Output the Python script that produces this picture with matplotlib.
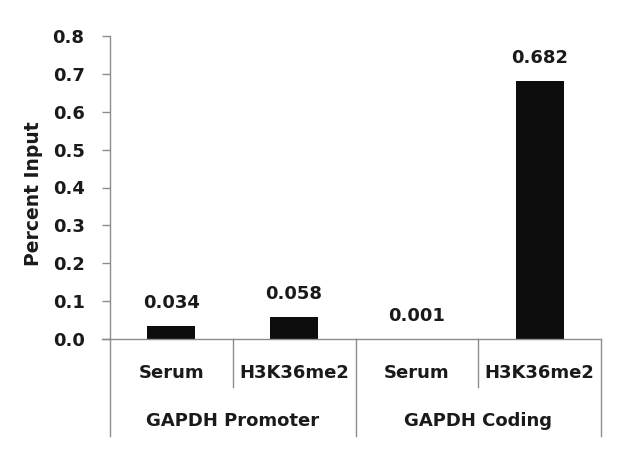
import matplotlib
matplotlib.use("Agg")
import matplotlib.pyplot as plt
from matplotlib.transforms import blended_transform_factory
from matplotlib.lines import Line2D

sub_labels = ["Serum", "H3K36me2", "Serum", "H3K36me2"]
group_labels = ["GAPDH Promoter", "GAPDH Coding"]
values = [0.034, 0.058, 0.001, 0.682]
value_texts = ["0.034", "0.058", "0.001", "0.682"]
yticks = [0.0, 0.1, 0.2, 0.3, 0.4, 0.5, 0.6, 0.7, 0.8]

plt.rcParams['font.family'] = ['DejaVu Sans']
TXT = "#1a1a1a"
GRAY = "#8c8c8c"
FS = 13

fig = plt.figure(figsize=(6.4, 4.7), dpi=100)
ax = fig.add_axes([110/640, 131/470, 491/640, 303/470])

x = list(range(len(values)))
ax.bar(x, values, width=0.39, color="#0d0d0d")
ax.set_xlim(-0.5, len(values) - 0.5)
ax.set_ylim(0, 0.8)
ax.set_yticks(yticks)
ax.set_yticklabels([f"{t:.1f}" for t in yticks], fontsize=FS, fontweight="bold", color=TXT)
ax.tick_params(axis="y", length=5.8, color=GRAY, width=1, pad=12.5)
ax.set_xticks([])
for s in ["top", "right", "bottom"]:
    ax.spines[s].set_visible(False)
ax.spines["left"].set_color(GRAY)
ax.spines["left"].set_linewidth(1)
ax.add_line(Line2D([-0.5 - 8/122.75, len(values) - 0.5], [0, 0], color=GRAY, lw=1, clip_on=False))

ax.set_ylabel("Percent Input", fontsize=13.5, fontweight="bold", color=TXT)
ax.yaxis.set_label_coords(-67/491, 0.48)

for xi, v, t in zip(x, values, value_texts):
    ax.annotate(t, (xi, v), xytext=(0, 13), textcoords="offset points",
                ha="center", va="baseline", fontsize=FS, fontweight="bold", color=TXT)

trans = blended_transform_factory(ax.transData, ax.transAxes)
h = 303.0
for xi, lab in zip(x, sub_labels):
    ax.text(xi, -39/h, lab, transform=trans, ha="center", va="baseline",
            fontsize=FS, fontweight="bold", color=TXT)
for gi, lab in enumerate(group_labels):
    ax.text(2*gi + 0.5, -87/h, lab, transform=trans, ha="center", va="baseline",
            fontsize=FS, fontweight="bold", color=TXT)

for xd in [0.5, 2.5]:
    ax.add_line(Line2D([xd, xd], [0, -48/h], transform=trans, color=GRAY, lw=1, clip_on=False))
for xd in [-0.5, 1.5, 3.5]:
    ax.add_line(Line2D([xd, xd], [0, -97/h], transform=trans, color=GRAY, lw=1, clip_on=False))

fig.savefig("out.png", dpi=100)
